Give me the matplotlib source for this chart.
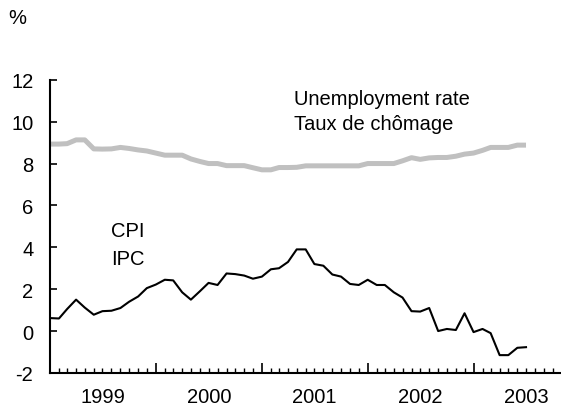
import pandas as pd
import matplotlib
matplotlib.use('Agg')
import matplotlib.pyplot as plt
import matplotlib.dates as mdates
import matplotlib.transforms as mtransforms

# Monthly series, January 1999 to July 2003
months = pd.date_range('1999-01-01', periods=55, freq='MS')

cpi = [0.62, 0.60, 1.05, 1.50, 1.12, 0.78, 0.95, 0.97, 1.10, 1.40, 1.65, 2.05,
       2.22, 2.45, 2.42, 1.85, 1.50, 1.90, 2.30, 2.20, 2.75, 2.72, 2.65, 2.50,
       2.60, 2.95, 3.00, 3.30, 3.90, 3.90, 3.20, 3.12, 2.70, 2.60, 2.25, 2.20,
       2.45, 2.20, 2.20, 1.85, 1.60, 0.95, 0.93, 1.10, 0.00, 0.10, 0.05, 0.85,
       -0.05, 0.10, -0.10, -1.15, -1.15, -0.80, -0.77]

unemployment = [8.93, 8.93, 8.95, 9.13, 9.13, 8.70, 8.69, 8.70, 8.77, 8.72, 8.65, 8.60,
                8.50, 8.40, 8.40, 8.40, 8.22, 8.10, 8.00, 8.00, 7.90, 7.90, 7.90, 7.80,
                7.70, 7.70, 7.81, 7.81, 7.82, 7.89, 7.89, 7.89, 7.89, 7.89, 7.89, 7.89,
                8.00, 8.00, 8.00, 8.00, 8.13, 8.28, 8.20, 8.27, 8.29, 8.29, 8.35, 8.45,
                8.50, 8.63, 8.77, 8.77, 8.77, 8.88, 8.88]

years = [1999, 2000, 2001, 2002, 2003]

plt.rcParams['font.family'] = ['Liberation Sans', 'DejaVu Sans']
plt.rcParams['font.size'] = 14.5
plt.rcParams['axes.unicode_minus'] = False

fig = plt.figure(figsize=(5.61, 4.06), dpi=100)
ax = fig.add_axes([0.0891, 0.079, 0.909, 0.722])

ax.plot(months, unemployment, color='#c0c0c0', linewidth=3.6,
        solid_capstyle='butt', solid_joinstyle='round')
ax.plot(months, cpi, color='black', linewidth=1.5, solid_joinstyle='round')

ax.set_ylim(-2, 12)
ax.set_yticks(range(-2, 13, 2))
ax.set_xlim(pd.Timestamp('1999-01-01'), pd.Timestamp('2003-10-26'))

ax.xaxis.set_major_locator(mdates.YearLocator())
ax.xaxis.set_minor_locator(mdates.MonthLocator())
ax.xaxis.set_major_formatter(plt.NullFormatter())
ax.tick_params(axis='x', which='major', direction='in', length=7, width=1.2)
ax.tick_params(axis='x', which='minor', direction='in', length=3.5, width=1.0)
ax.tick_params(axis='y', direction='in', length=5, width=1.2, pad=12)

for side in ['top', 'right']:
    ax.spines[side].set_visible(False)
for side in ['left', 'bottom']:
    ax.spines[side].set_linewidth(1.5)

# year labels sit in the middle of each year
trans = mtransforms.blended_transform_factory(ax.transData, ax.transAxes)
for y in years:
    ax.text(pd.Timestamp(f'{y}-07-02'), -0.1, str(y), transform=trans,
            ha='center', va='baseline')

ax.text(pd.Timestamp('2001-04-22'), 10.83, 'Unemployment rate', ha='left', va='baseline')
ax.text(pd.Timestamp('2001-04-22'), 9.64, 'Taux de chômage', ha='left', va='baseline')
ax.text(pd.Timestamp('1999-08-01'), 4.53, 'CPI', ha='left', va='baseline')
ax.text(pd.Timestamp('1999-08-01'), 3.2, 'IPC', ha='left', va='baseline')

fig.text(0.014, 0.955, '%', ha='left', va='center')

fig.savefig('out.png', dpi=100)
